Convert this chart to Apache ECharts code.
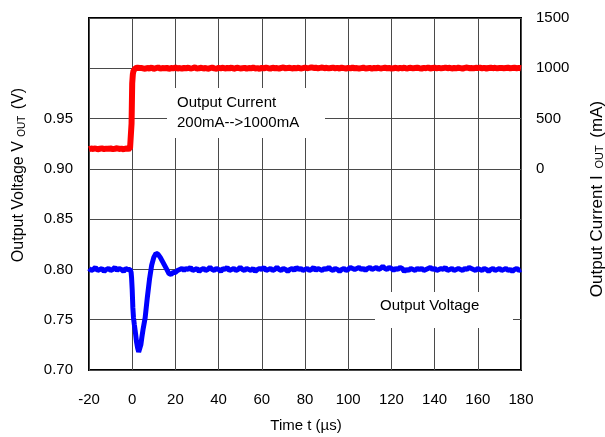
<!DOCTYPE html>
<html>
<head>
<meta charset="utf-8">
<script src="https://cdn.jsdelivr.net/npm/echarts@6/dist/echarts.min.js"></script>
<style>html,body{margin:0;padding:0;background:#fff}#c{width:605px;height:437px}</style>
</head>
<body>
<div id="c"></div>
<script>
// Time (µs)
const time = [-20,-19,-18,-17,-16,-15,-14,-13,-12,-11,-10,-9,-8,-7,-6,-5,-4,-3,-2,-1,
-0.5,-0.3,0,0.3,0.6,1,1.5,2,2.5,3,3.5,4,4.5,5,
6,7,8,9,10,11,12,13,14,15,16,17,18,19,20,21,22,
23,24,25,26,27,28,29,30,31,32,33,34,35,36,37,38,39,40,41,42,43,44,45,46,47,48,49,50,51,52,
53,54,55,56,57,58,59,60,61,62,63,64,65,66,67,68,69,70,71,72,73,74,75,76,77,78,79,80,81,82,
83,84,85,86,87,88,89,90,91,92,93,94,95,96,97,98,99,100,101,102,103,104,105,106,107,108,109,110,111,112,
113,114,115,116,117,118,119,120,121,122,123,124,125,126,127,128,129,130,131,132,133,134,135,136,137,138,139,140,141,142,
143,144,145,146,147,148,149,150,151,152,153,154,155,156,157,158,159,160,161,162,163,164,165,166,167,168,169,170,171,172,
173,174,175,176,177,178,179,180];
// Output voltage (V)
const voltage = [0.801,0.799,0.800,0.802,0.799,0.800,0.801,0.798,0.800,0.801,0.799,0.800,0.802,0.799,0.801,0.800,0.798,0.801,0.800,0.800,
0.797,0.792,0.780,0.762,0.752,0.745,0.737,0.728,0.722,0.718,0.719,0.725,0.733,0.740,
0.752,0.772,0.790,0.804,0.812,0.816,0.815,0.812,0.808,0.804,0.800,0.796,0.795,0.797,0.797,0.799,0.800,
0.801,0.799,0.801,0.800,0.802,0.799,0.800,0.801,0.798,0.800,
0.801,0.799,0.800,0.802,0.800,0.799,0.801,0.800,0.798,0.801,
0.800,0.802,0.799,0.800,0.801,0.799,0.800,0.802,0.800,0.799,
0.801,0.800,0.799,0.801,0.798,0.800,0.801,0.800,0.802,0.799,
0.800,0.801,0.799,0.800,0.802,0.800,0.799,0.801,0.800,0.798,
0.800,0.801,0.799,0.802,0.800,0.801,0.799,0.800,0.801,0.799,
0.800,0.802,0.799,0.801,0.800,0.799,0.801,0.800,0.802,0.800,
0.799,0.801,0.800,0.798,0.800,0.801,0.799,0.800,0.802,0.801,
0.800,0.801,0.802,0.800,0.801,0.799,0.801,0.802,0.800,0.801,
0.802,0.800,0.801,0.803,0.801,0.800,0.802,0.801,0.799,0.801,
0.800,0.802,0.801,0.798,0.800,0.799,0.801,0.800,0.799,0.801,
0.800,0.801,0.799,0.800,0.801,0.802,0.800,0.801,0.799,0.800,
0.801,0.800,0.802,0.799,0.800,0.801,0.799,0.800,0.801,0.800,
0.799,0.801,0.800,0.802,0.801,0.800,0.799,0.801,0.800,0.799,
0.801,0.800,0.798,0.800,0.801,0.799,0.800,0.801,0.799,0.800,
0.801,0.799,0.800,0.798,0.800,0.801,0.799,0.800];
// Output current (mA)
const current = [196,202,198,203,195,200,204,197,201,199,203,196,200,205,198,201,195,202,199,203,
205,450,850,940,975,990,1000,995,1005,998,1003,996,1002,1000,
994,1004,998,1006,995,1001,1008,996,1003,999,1005,994,1002,1000,1007,997,1003,
995,1004,999,1006,997,1002,1008,996,1001,1005,
998,1003,995,1002,1007,999,996,1004,1000,1006,
997,1003,999,1008,995,1002,1005,998,1001,1004,
996,1003,1000,1007,998,1002,995,1004,999,1006,
1001,997,1005,1000,1003,996,1004,1008,999,1002,
1005,998,1003,1000,1006,997,1002,1007,1001,1004,
1009,1003,1006,1000,1004,1008,1001,1005,999,1003,
1007,1000,1004,998,1006,1002,997,1004,1000,1007,
999,1003,996,1002,1006,998,1001,1004,997,1003,
1000,1005,998,1002,1006,999,1003,997,1001,1005,
998,1004,1000,1007,996,1002,1005,999,1003,1006,
1001,997,1004,1000,1008,998,1003,1006,1000,1004,
999,1002,1007,1001,1005,998,1003,1000,1006,1002,
997,1004,1008,1001,1003,999,1005,1002,1007,1000,
1004,998,1003,1006,1001,1005,999,1002,1004,1000,
1003,1006,999,1002,1005,1001,1004,1000];
// Tick settings
const xTicks = {min: -20, max: 180, interval: 20};
const vTicks = {min: 0.70, max: 1.05, interval: 0.05};
const iTicks = {min: -2000, max: 1500, interval: 500};

const FONT = '"Liberation Sans", Arial, sans-serif';
const chart = echarts.init(document.getElementById('c'), null, {renderer: 'canvas'});
const vData = time.map((t, i) => [t, voltage[i]]);
const iData = time.map((t, i) => [t, current[i]]);
const gridLine = {show: true, lineStyle: {color: '#4a4a4a', width: 1}};
chart.setOption({
  animation: false,
  backgroundColor: '#fff',
  textStyle: {fontFamily: FONT},
  grid: {left: 89, right: 84, top: 18, bottom: 67, show: true, borderColor: '#000', borderWidth: 2, backgroundColor: 'transparent'},
  xAxis: {
    type: 'value', min: xTicks.min, max: xTicks.max, interval: xTicks.interval,
    axisLine: {show: false}, axisTick: {show: false}, splitLine: gridLine,
    axisLabel: {color: '#000', fontSize: 15, fontFamily: FONT, margin: 22}
  },
  yAxis: [{
    type: 'value', min: vTicks.min, max: vTicks.max, interval: vTicks.interval,
    axisLine: {show: false}, axisTick: {show: false}, splitLine: gridLine,
    axisLabel: {color: '#000', fontSize: 15, fontFamily: FONT, margin: 16,
      formatter: v => v < 0.975 ? v.toFixed(2) : ''}
  }, {
    type: 'value', min: iTicks.min, max: iTicks.max, interval: iTicks.interval, position: 'right',
    axisLine: {show: false}, axisTick: {show: false}, splitLine: {show: false},
    axisLabel: {color: '#000', fontSize: 15, fontFamily: FONT, margin: 15,
      formatter: v => v >= 0 ? String(Math.round(v)) : ''}
  }],
  series: [{
    type: 'line', name: 'Output Voltage', data: vData, yAxisIndex: 0, showSymbol: false,
    lineStyle: {color: '#0000ff', width: 5}, itemStyle: {color: '#0000ff'}, z: 3
  }, {
    type: 'line', name: 'Output Current', data: iData, yAxisIndex: 1, showSymbol: false,
    lineStyle: {color: '#ff0000', width: 6}, itemStyle: {color: '#ff0000'}, z: 3
  }],
  graphic: [
    {type: 'rect', shape: {x: 167, y: 88, width: 158, height: 50}, style: {fill: '#fff'}, z: 1},
    {type: 'text', x: 177, y: 103, style: {text: 'Output Current', font: '15px ' + FONT, fill: '#000', textVerticalAlign: 'middle'}, z: 2},
    {type: 'text', x: 177, y: 123, style: {text: '200mA-->1000mA', font: '15px ' + FONT, fill: '#000', textVerticalAlign: 'middle'}, z: 2},
    {type: 'rect', shape: {x: 375, y: 292, width: 138, height: 36}, style: {fill: '#fff'}, z: 1},
    {type: 'text', x: 380, y: 306, style: {text: 'Output Voltage', font: '15px ' + FONT, fill: '#000', textVerticalAlign: 'middle'}, z: 2},
    {type: 'text', x: 19, y: 175, rotation: Math.PI / 2,
      style: {text: '{n|Output Voltage V }{s|OUT}{n| (V)}', textAlign: 'center', textVerticalAlign: 'middle',
        rich: {n: {fontSize: 16, fontFamily: FONT, color: '#000'}, s: {fontSize: 10, fontFamily: FONT, color: '#000', padding: [6, 2, 0, 0]}}}, z: 2},
    {type: 'text', x: 597, y: 199, rotation: Math.PI / 2,
      style: {text: '{n|Output Current I }{s|OUT}{n| (mA)}', textAlign: 'center', textVerticalAlign: 'middle',
        rich: {n: {fontSize: 17, fontFamily: FONT, color: '#000'}, s: {fontSize: 11, fontFamily: FONT, color: '#000', padding: [6, 3, 0, 2]}}}, z: 2},
    {type: 'text', x: 306, y: 426, style: {text: 'Time t (µs)', font: '15px ' + FONT, fill: '#000', textAlign: 'center', textVerticalAlign: 'middle'}, z: 2}
  ]
});
</script>
</body>
</html>
